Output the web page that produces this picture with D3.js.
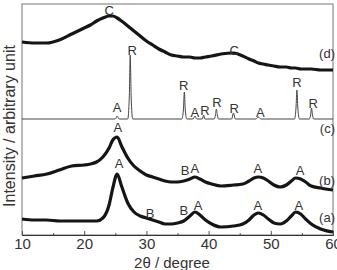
<!DOCTYPE html>
<html>
<head>
<meta charset="utf-8">
<script src="https://cdn.jsdelivr.net/npm/d3@7"></script>
<style>
  body { margin: 0; background: #fff; }
  svg { display: block; font-family: "Liberation Sans", Arial, sans-serif; }
</style>
</head>
<body>
<div id="chart"></div>
<script>
// 2theta grid for the broad patterns (a), (b), (d)
var theta = [10, 12, 14, 16, 18, 20, 21, 22, 23, 24, 24.6, 25.3, 26, 27, 28, 29, 30, 31, 32, 33,
  34, 35, 36, 37, 37.8, 38.6, 39.5, 40.5, 42, 44, 45.5, 46.5, 47.3, 48, 48.8, 49.6, 50.5, 51.5, 52.5, 53.3,
  54, 54.8, 55.6, 56.5, 58, 60];

// intensities (arbitrary units, offset curves)
var patternA = [16, 15, 15, 14, 14, 14, 14, 14, 17, 30, 47, 61, 49, 32, 23, 19, 17, 15, 13, 11,
  11, 12, 14, 19, 23, 20, 15, 11, 8, 9, 11, 15, 20, 22, 20, 16, 12, 11, 14, 19,
  23, 21, 16, 11, 6, 3];
var patternB = [57, 59, 61, 65, 69, 70, 71, 73, 78, 87, 95, 98, 89, 77, 69, 64, 60, 58, 56, 54,
  53, 53, 54, 56, 58, 56, 53, 51, 49, 50, 51, 54, 57, 58, 57, 54, 50, 48, 50, 54,
  57, 56, 53, 49, 47, 45];
var patternD = [193, 192, 192, 195, 201, 207, 210, 214, 217, 219, 219, 217, 214, 209, 204, 199, 194, 190, 186, 183,
  180, 179, 178, 178, 177, 177, 178, 179, 181, 182, 179, 176, 174, 172, 171, 170, 169, 168, 168, 167,
  167, 166, 166, 166, 165, 165];

// pattern (c) has sharp peaks, so its own grid
var thetaC = [10, 25.0, 25.3, 25.6, 27.0, 27.25, 27.4, 27.55, 27.8, 35.7, 35.95, 36.1, 36.25, 36.5,
  37.5, 37.8, 38.1, 39.0, 39.2, 39.4, 40.9, 41.1, 41.25, 41.4, 41.6, 43.7, 44.0, 44.3,
  47.6, 48.0, 48.4, 53.8, 54.05, 54.2, 54.35, 54.6, 56.2, 56.4, 56.55, 56.7, 56.9, 60];
var patternC = [116, 116, 119, 116, 116, 138, 180, 138, 116, 116, 125, 143, 125, 116,
  116, 119, 116, 116, 120, 116, 116, 120, 126, 120, 116, 116, 122, 116,
  116, 118, 116, 116, 127, 145, 127, 116, 116, 120, 127, 120, 116, 116];

// phase markers: letter, 2theta, intensity level
var markText = ["C", "C",
  "A", "R", "R", "A", "R", "R", "R", "A", "R", "R",
  "A", "B", "A", "A", "A",
  "A", "B", "B", "A", "A", "A"];
var markTheta = [24.0, 44.1,
  25.3, 27.7, 36.0, 37.8, 39.4, 41.35, 44.1, 48.3, 54.2, 56.8,
  25.4, 36.2, 37.8, 47.9, 54.7,
  25.6, 30.6, 36.0, 38.3, 47.9, 54.5];
var markLevel = [220, 180,
  123, 180, 145, 118, 120, 128, 122, 118, 148, 127,
  103, 60, 62, 62, 60,
  67, 17, 20, 25, 25, 25];

var curveTags = ["(d)", "(c)", "(b)", "(a)"];
var curveTagLevel = [177, 102, 50, 13];

var xTicks = [10, 20, 30, 40, 50, 60];

var w = 337, h = 270;
var margin = { left: 22, right: 4, top: 4, bottom: 35 };

var x = d3.scaleLinear().domain([10, 60]).range([margin.left, w - margin.right]);
var y = d3.scaleLinear().domain([0, 231]).range([h - margin.bottom, margin.top]);

var svg = d3.select("#chart").append("svg")
  .attr("width", w)
  .attr("height", h);

// frame
svg.append("rect")
  .attr("x", x(10)).attr("y", y(231))
  .attr("width", x(60) - x(10)).attr("height", y(0) - y(231))
  .attr("fill", "none").attr("stroke", "#777").attr("stroke-width", 1);

// minor ticks
svg.append("g")
  .attr("transform", "translate(0," + y(0) + ")")
  .call(d3.axisBottom(x).tickValues([15, 25, 35, 45, 55]).tickSize(-2).tickFormat(""))
  .call(function (g) { g.select(".domain").remove(); })
  .selectAll("line").attr("stroke", "#555");

// major axis
var xAxis = svg.append("g")
  .attr("transform", "translate(0," + y(0) + ")")
  .call(d3.axisBottom(x).tickValues(xTicks).tickSize(-4).tickPadding(3).tickFormat(d3.format("d")));
xAxis.select(".domain").attr("stroke", "#333");
xAxis.selectAll("line").attr("stroke", "#555");
xAxis.selectAll("text")
  .attr("font-size", 15)
  .attr("fill", "#333")
  .attr("font-family", "Liberation Sans, Arial, sans-serif");

// axis titles
svg.append("text")
  .attr("x", 172).attr("y", 268)
  .attr("text-anchor", "middle")
  .attr("font-size", 15)
  .attr("fill", "#333")
  .text("2\u03b8 / degree");

svg.append("text")
  .attr("transform", "translate(15,126) rotate(-90)")
  .attr("text-anchor", "middle")
  .attr("font-size", 16)
  .attr("fill", "#333")
  .text("Intensity / arbitrary unit");

// patterns
var line = d3.line()
  .x(function (d) { return x(d[0]); })
  .y(function (d) { return y(d[1]); })
  .curve(d3.curveMonotoneX);

var broad = [patternA, patternB, patternD];
broad.forEach(function (vals) {
  svg.append("path")
    .datum(theta.map(function (t, i) { return [t, vals[i]]; }))
    .attr("d", line)
    .attr("fill", "none")
    .attr("stroke", "#151515")
    .attr("stroke-width", 3.2)
    .attr("stroke-linejoin", "round");
});

svg.append("path")
  .datum(thetaC.map(function (t, i) { return [t, patternC[i]]; }))
  .attr("d", line)
  .attr("fill", "none")
  .attr("stroke", "#444")
  .attr("stroke-width", 1);

// phase letters
svg.selectAll("text.mark")
  .data(markText)
  .enter().append("text")
  .attr("class", "mark")
  .attr("x", function (d, i) { return x(markTheta[i]); })
  .attr("y", function (d, i) { return y(markLevel[i]); })
  .attr("text-anchor", "middle")
  .attr("font-size", 13)
  .attr("fill", "#333")
  .text(function (d) { return d; });

// curve tags
svg.selectAll("text.tag")
  .data(curveTags)
  .enter().append("text")
  .attr("class", "tag")
  .attr("x", x(60) + 2)
  .attr("y", function (d, i) { return y(curveTagLevel[i]); })
  .attr("text-anchor", "end")
  .attr("font-size", 13)
  .attr("fill", "#333")
  .text(function (d) { return d; });
</script>
</body>
</html>
